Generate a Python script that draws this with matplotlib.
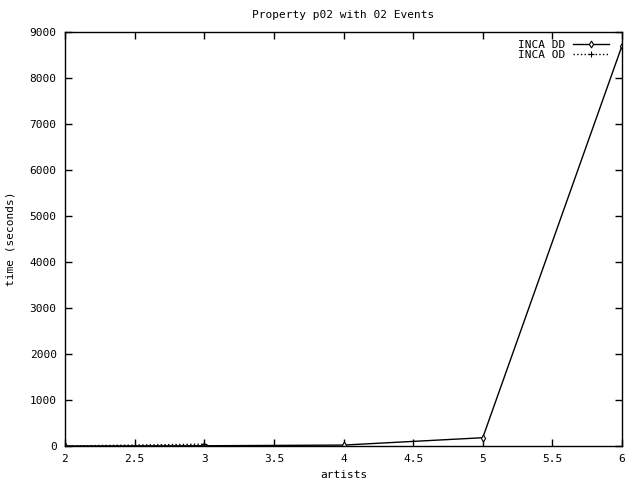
import matplotlib
matplotlib.use('Agg')
import matplotlib.pyplot as plt

# data
artists_dd = [2, 3, 4, 5, 6]
time_dd = [0, 5, 20, 180, 8700]
artists_od = [2, 3]
time_od = [0, 40]

plt.rcParams['font.family'] = 'DejaVu Sans Mono'
plt.rcParams['font.size'] = 8

fig = plt.figure(figsize=(6.4, 4.8), dpi=100)
ax = fig.add_axes([65 / 640, 34 / 480, 557 / 640, 414 / 480])

ax.plot(artists_dd, time_dd, color='black', linewidth=1, marker='d',
        markersize=3.5, markerfacecolor='white', markeredgewidth=0.8, label='INCA DD')
ax.plot(artists_od, time_od, color='black', linewidth=1, linestyle=':',
        marker='+', markersize=5, markeredgewidth=0.8, label='INCA OD')

ax.set_xlim(2, 6)
ax.set_ylim(0, 9000)
ax.set_xticks([2, 2.5, 3, 3.5, 4, 4.5, 5, 5.5, 6])
ax.set_xticklabels(['2', '2.5', '3', '3.5', '4', '4.5', '5', '5.5', '6'])
ax.set_yticks(range(0, 9001, 1000))
ax.tick_params(direction='in', top=True, right=True, length=5, width=1, pad=6)
for s in ax.spines.values():
    s.set_linewidth(1)

ax.set_title('Property p02 with 02 Events', fontsize=8, pad=10)
ax.set_xlabel('artists', labelpad=4)
ax.set_ylabel('time (seconds)', labelpad=10)

ax.legend(loc='upper right', frameon=False, markerfirst=False, handlelength=3.2,
          borderaxespad=0.3, labelspacing=0.05, handletextpad=0.7,
          bbox_to_anchor=(0.99, 1.0))

fig.savefig('out.png')
